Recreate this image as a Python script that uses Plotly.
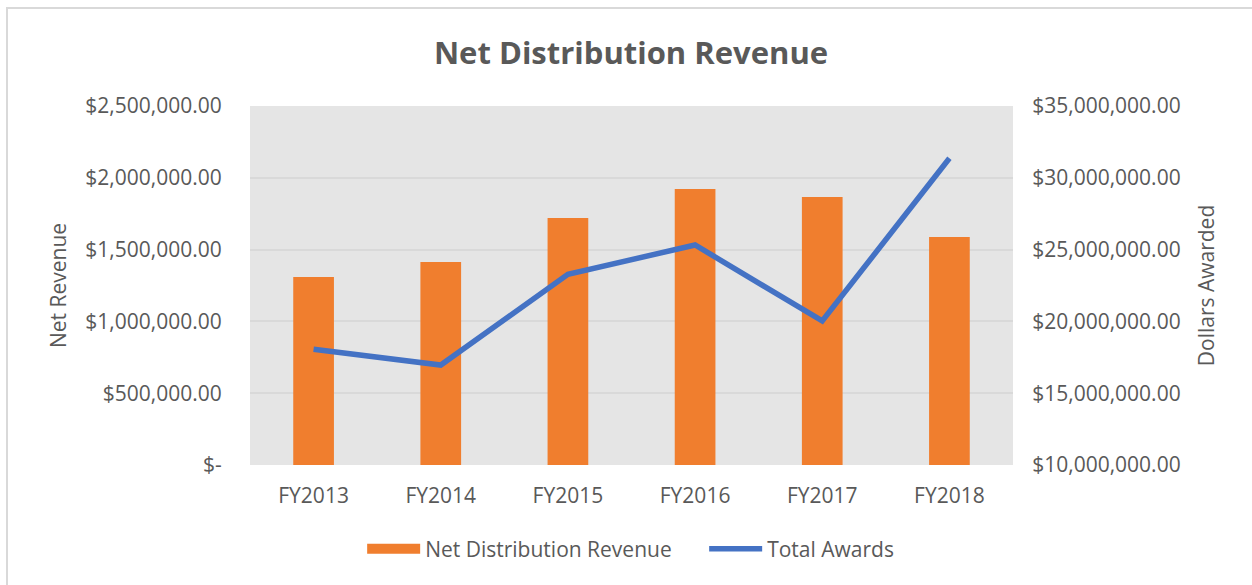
import plotly.graph_objects as go

categories = ["FY2013", "FY2014", "FY2015", "FY2016", "FY2017", "FY2018"]
net_revenue = [1309000, 1414000, 1720000, 1922000, 1866000, 1588000]
total_awards = [18060000, 16960000, 23280000, 25320000, 20030000, 31360000]

left_ticks = [0, 500000, 1000000, 1500000, 2000000, 2500000]
left_labels = ["$-", "$500,000.00", "$1,000,000.00", "$1,500,000.00", "$2,000,000.00", "$2,500,000.00"]
right_ticks = [10000000, 15000000, 20000000, 25000000, 30000000, 35000000]
right_labels = ["$10,000,000.00", "$15,000,000.00", "$20,000,000.00", "$25,000,000.00", "$30,000,000.00", "$35,000,000.00"]

FONT = "Open Sans"
TXT = "#595959"
ORANGE = "#F07E2E"
BLUE = "#4472C4"
FS = 21

fig = go.Figure()
fig.add_trace(go.Bar(
    x=categories, y=net_revenue, name="Net Distribution Revenue",
    marker=dict(color=ORANGE, line=dict(width=0)),
    yaxis="y", showlegend=False,
))
fig.add_trace(go.Scatter(
    x=categories, y=total_awards, name="Total Awards",
    mode="lines", line=dict(color=BLUE, width=5.5),
    yaxis="y2", showlegend=False,
))
# legend-only entries
fig.add_trace(go.Scatter(x=[None], y=[None], name="Net Distribution Revenue", mode="lines",
                         line=dict(color=ORANGE, width=14), yaxis="y"))
fig.add_trace(go.Scatter(x=[None], y=[None], name="Total Awards", mode="lines",
                         line=dict(color=BLUE, width=5.5), yaxis="y2"))

fig.update_layout(
    width=1252, height=585,
    paper_bgcolor="white", plot_bgcolor="#E5E5E5",
    margin=dict(l=250, r=239, t=106, b=120),
    font=dict(family=FONT, size=FS, color=TXT),
    title=dict(text="<b>Net Distribution Revenue</b>", x=0.504, xanchor="center",
               y=0.91, yanchor="middle", font=dict(size=31, color=TXT, family=FONT)),
    bargap=0.68,
    showlegend=True,
    legend=dict(orientation="h", x=0.147, xanchor="left", y=-0.234, yanchor="middle",
                font=dict(size=FS, color=TXT), tracegroupgap=0, bgcolor="rgba(0,0,0,0)",
                itemwidth=53, entrywidth=274, entrywidthmode="pixels"),
    xaxis=dict(showgrid=False, ticks="outside", ticklen=12, tickcolor="rgba(0,0,0,0)",
               tickfont=dict(size=FS, color=TXT), showline=False, zeroline=False),
    yaxis=dict(range=[0, 2500000], tickvals=left_ticks, ticktext=left_labels,
               gridcolor="#D9D9D9", gridwidth=1.5, zeroline=False,
               ticks="outside", ticklen=23, tickcolor="rgba(0,0,0,0)",
               tickfont=dict(size=FS, color=TXT),
               title=dict(text="Net Revenue", font=dict(size=FS, color=TXT), standoff=12)),
    yaxis2=dict(range=[10000000, 35000000], tickvals=right_ticks, ticktext=right_labels,
                overlaying="y", side="right", showgrid=False, zeroline=False,
                ticks="outside", ticklen=14, tickcolor="rgba(0,0,0,0)",
                tickfont=dict(size=FS, color=TXT),
                title=dict(text="Dollars Awarded", font=dict(size=FS, color=TXT), standoff=19)),
    shapes=[dict(type="rect", xref="paper", yref="paper", x0=-0.3185, x1=1.4, y0=-0.6, y1=1.273,
                 line=dict(color="#D9D9D9", width=2), fillcolor="rgba(0,0,0,0)", layer="below")],
)

fig.write_html("out.html", config={"displayModeBar": False},
               post_script="document.body.style.margin='0px';")
